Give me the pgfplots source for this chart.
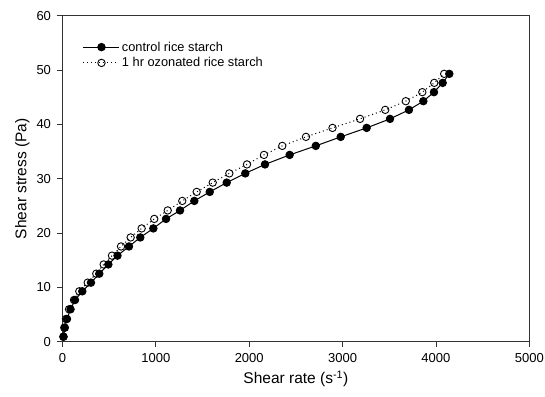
\documentclass[border=0pt]{standalone}
\usepackage{fontspec}
\setmainfont{Liberation Sans}
\usepackage{pgfplots}
\pgfplotsset{compat=1.18}
\begin{document}
\begin{tikzpicture}
\useasboundingbox (-62.5pt,-54.3pt) rectangle (482.5pt,341.7pt);
\begin{axis}[
  at={(0,0)}, anchor=south west,
  scale only axis, width=466.8pt, height=326pt,
  xmin=0, xmax=5000, ymin=0, ymax=60,
  xtick={0,1000,...,5000}, ytick={0,10,...,60},
  xtick pos=bottom, ytick pos=left,
  tick align=outside, major tick length=5pt,
  axis line style={line width=0.8pt, black!80},
  tick style={line width=0.8pt, black!80},
  /pgf/number format/assume math mode=true,
  /pgf/number format/1000 sep={},
  ticklabel style={font=\fontsize{13}{15}\selectfont},
  xticklabel style={yshift=-3pt},
  yticklabel style={xshift=-3pt},
  xlabel={Shear rate (s\textsuperscript{-1})},
  ylabel={Shear stress (Pa)},
  label style={font=\fontsize{15.5}{18}\selectfont},
  xlabel style={yshift=-2pt},
  legend style={at={(0.037,0.933)}, anchor=north west, draw=none, fill=none,
    font=\fontsize{12.8}{14}\selectfont, row sep=1pt},
  legend cell align=left,
  legend image code/.code={\draw[mark repeat=2,mark phase=2,#1] plot coordinates {(0pt,0pt) (18pt,0pt) (36pt,0pt)};},
  clip=false,
]
\addplot[black, line width=1pt, mark=*, mark size=3.7pt, mark options={solid, fill=black}] coordinates {
(11,0.92)(25,2.58)(48,4.18)(86,5.97)(134,7.68)(212,9.28)(305,10.87)(394,12.52)(491,14.22)(589,15.84)
(712,17.53)(833,19.19)(973,20.85)(1109,22.60)(1259,24.16)(1412,25.91)(1577,27.57)(1759,29.28)(1958,30.98)(2169,32.63)
(2433,34.38)(2713,36.04)(2980,37.70)(3258,39.35)(3508,41.01)(3711,42.67)(3865,44.27)(3979,45.93)(4072,47.64)(4143,49.30)
};
\addlegendentry{control rice starch}
\addplot[black, line width=1pt, dash pattern=on 1pt off 3pt, mark=o, mark size=3.7pt, mark options={solid, fill=white, line width=0.9pt}] coordinates {
(9,0.92)(19,2.58)(37,4.18)(70,5.97)(123,7.68)(180,9.28)(270,10.87)(362,12.52)(441,14.22)(530,15.84)
(627,17.53)(730,19.19)(848,20.85)(983,22.60)(1127,24.16)(1283,25.91)(1437,27.57)(1609,29.28)(1787,30.98)(1976,32.63)
(2158,34.38)(2354,36.04)(2608,37.70)(2892,39.35)(3187,41.01)(3457,42.67)(3677,44.27)(3854,45.93)(3982,47.64)(4088,49.30)
};
\addlegendentry{1 hr ozonated rice starch}
\end{axis}
\end{tikzpicture}
\end{document}
